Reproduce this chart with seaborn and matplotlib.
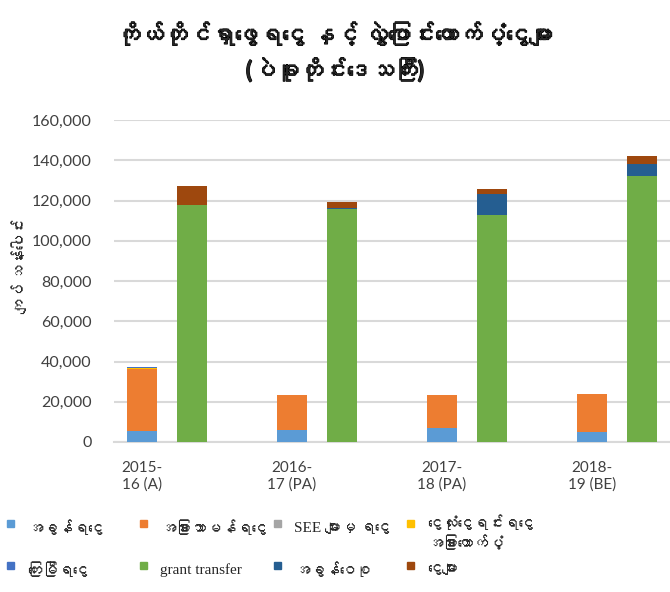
import pandas as pd
import matplotlib
matplotlib.use('Agg')
import matplotlib.pyplot as plt
import matplotlib.patheffects as pe
import seaborn as sns
from matplotlib import font_manager
from matplotlib.patches import Rectangle


# Values (million kyat)
years = ['2015-\n16 (A)', '2016-\n17 (PA)', '2017-\n18 (PA)', '2018-\n19 (BE)']
tax = [5300, 5800, 6800, 4800]
other_nontax = [31000, 17700, 16400, 18900]
see = [0, 0, 0, 0]
capital_other = [300, 100, 0, 0]
debt = [500, 0, 0, 0]
grant = [117900, 115600, 112800, 132000]
tax_share = [0, 700, 10300, 6300]
loans = [9500, 3000, 2900, 4100]

labels = ['အခွန်ရငွေ', 'အခြားသာမန်ရငွေ', 'SEE များမှ ရငွေ',
          'ငွေလုံးငွေရင်းရငွေ\nအခြားထောက်ပံ့', 'ကြေးမြီရငွေ',
          'grant transfer', 'အခွန်ဝေစု', 'ငွေများ']
colors = ['#5B9BD5', '#ED7D31', '#A5A5A5', '#FFC000',
          '#4472C4', '#70AD47', '#255E91', '#9E480E']


# look for a font that has Myanmar glyphs, if any is installed
def find_myanmar_font():
    try:
        from fontTools.ttLib import TTFont
    except ImportError:
        return None
    for f in font_manager.fontManager.ttflist:
        try:
            cmap = TTFont(f.fname, fontNumber=0, lazy=True).getBestCmap()
            if cmap and 0x1000 in cmap:
                return f.name
        except Exception:
            pass
    return None


mm_font = find_myanmar_font()
mm = [mm_font] if mm_font else []
# latin first, myanmar glyphs fall through to the myanmar font
serif_fam = ['Liberation Serif'] + mm + ['DejaVu Serif']
sans_fam = ['Lato'] + mm + ['DejaVu Sans']

sns.set_theme(style='white')
plt.rcParams['font.family'] = sans_fam

# one row per bar: left stack = own revenue, right stack = transfers
rows = []
for i in range(len(years)):
    own = [tax[i], other_nontax[i], see[i], capital_other[i], debt[i], 0, 0, 0]
    trn = [0, 0, 0, 0, 0, grant[i], tax_share[i], loans[i]]
    rows.append([3 * i] + own)
    rows.append([3 * i + 1] + trn)
cols = ['pos'] + [f's{k}' for k in range(8)]
df = pd.DataFrame(rows, columns=cols)
tops = df[cols[1:]].cumsum(axis=1)
tops['pos'] = df['pos']

fig = plt.figure(figsize=(6.7, 5.92), dpi=100)
ax = fig.add_axes([0.170, 0.2534, 0.830, 0.5436])

# draw cumulative totals from the top segment down so they stack
for k in reversed(range(8)):
    sns.barplot(data=tops, x='pos', y=f's{k}', native_scale=True, width=0.6,
                color=colors[k], saturation=1, linewidth=0, ax=ax, zorder=3)

ax.set_xlim(-0.56, 10.56)
ax.set_ylim(0, 160000)
ax.set_yticks(range(0, 160001, 20000))
ax.set_yticklabels([f'{v:,}' for v in range(0, 160001, 20000)], fontsize=11.5,
                   color='#404040')
ax.set_xticks([0, 3, 6, 9])
ax.set_xticklabels(years, fontsize=11, color='#404040')
ax.tick_params(axis='x', length=0, pad=14)
ax.tick_params(axis='y', length=0, pad=16)
ax.yaxis.grid(True, color='#D9D9D9', linewidth=1.5, zorder=0)
ax.set_axisbelow(True)
for s in ['top', 'right', 'left']:
    ax.spines[s].set_visible(False)
ax.spines['bottom'].set_color('#D9D9D9')
ax.spines['bottom'].set_linewidth(1.5)
ax.set_xlabel('')
ax.set_ylabel('')

title = fig.text(0.5, 0.912, 'ကိုယ်တိုင်ရှာဖွေရငွေ နှင့် လွှဲပြောင်းထောက်ပံ့ငွေများ\n(ပဲခူးတိုင်းဒေသကြီး)',
                 ha='center', va='center', fontsize=17, fontweight='bold',
                 family=sans_fam, linespacing=1.5)
# the myanmar font has no bold face, thicken it with a stroke
title.set_path_effects([pe.withStroke(linewidth=0.8, foreground='black')])
fig.text(0.03, 0.55, 'ကျပ် သန်းပေါင်း', rotation=90, ha='center', va='center',
         fontsize=11, style='italic', family=sans_fam)

# legend laid out like the Excel one: 4 columns, 2 rows
col_x = [10, 143, 277, 410]
row_y = [524, 566]
for k in range(8):
    r, c = divmod(k, 4)
    x0 = col_x[c] / 670
    y0 = 1 - row_y[r] / 592
    fig.add_artist(Rectangle((x0 - 3 / 670, y0 - 3 / 592), 7 / 670, 7 / 592,
                             transform=fig.transFigure, color=colors[k]))
    if '\n' in labels[k]:
        fig.text(x0 + 17 / 670, y0 + 9 / 592, labels[k], ha='left', va='top',
                 fontsize=11, family=serif_fam, linespacing=1.4)
    else:
        fig.text(x0 + 17 / 670, y0 - 4 / 592, labels[k], ha='left', va='center',
                 fontsize=11, family=serif_fam)

fig.savefig('out.png', dpi=100)
